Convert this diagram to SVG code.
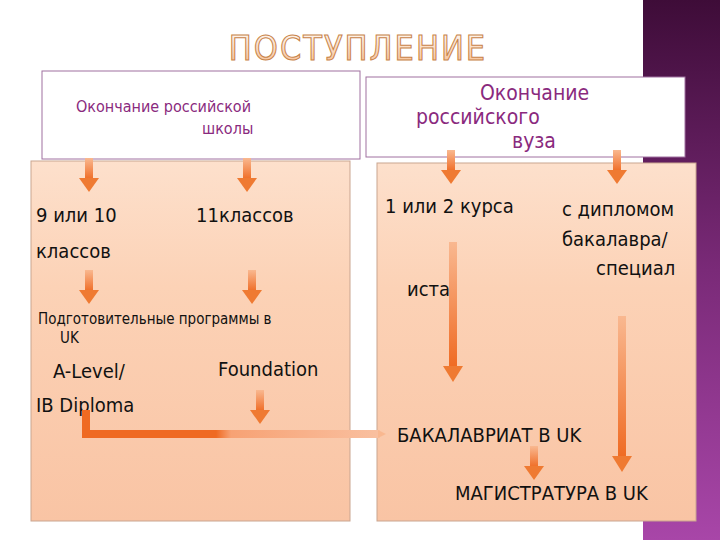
<svg xmlns="http://www.w3.org/2000/svg" width="720" height="540" viewBox="0 0 720 540">
<defs>
<linearGradient id="band" x1="0" y1="0" x2="0" y2="1"><stop offset="0" stop-color="#3e0c38"/><stop offset="0.5" stop-color="#7a2a78"/><stop offset="1" stop-color="#a846a8"/></linearGradient>
<linearGradient id="panel" x1="0" y1="0" x2="0" y2="1"><stop offset="0" stop-color="#fde0cc"/><stop offset="0.35" stop-color="#fcd2b6"/><stop offset="1" stop-color="#f9c4a4"/></linearGradient>
<linearGradient id="arr" x1="0" y1="0" x2="0" y2="1"><stop offset="0" stop-color="#f9b890"/><stop offset="1" stop-color="#ef6a22"/></linearGradient>
<linearGradient id="harr" x1="0" y1="0" x2="1" y2="0"><stop offset="0" stop-color="#ef6a22"/><stop offset="0.45" stop-color="#ef6a22"/><stop offset="0.5" stop-color="#f7a274"/><stop offset="1" stop-color="#f9c0a0"/></linearGradient>
<linearGradient id="title" x1="0" y1="0" x2="0" y2="1"><stop offset="0" stop-color="#fff"/><stop offset="1" stop-color="#f6b98a"/></linearGradient>
<g id="sa"><rect x="-4" y="0" width="8" height="22" fill="url(#arr)"/><polygon points="-10,20 10,20 0,34" fill="#ef7a32"/></g>
</defs>
<style>
.t{font-family:"DejaVu Sans Condensed","DejaVu Sans",sans-serif;fill:#111}
.p{font-family:"DejaVu Sans Condensed","DejaVu Sans",sans-serif;fill:#8a2a7e}
.box{fill:#fff;stroke:#a070a0;stroke-width:1}
.pan{fill:url(#panel);stroke:#c9a590;stroke-width:1}
</style>
<rect width="720" height="540" fill="#fff"/>
<rect x="643" y="0" width="77" height="540" fill="url(#band)"/>
<text x="358" y="60" text-anchor="middle" font-family="DejaVu Sans Condensed,DejaVu Sans,sans-serif" font-size="34" fill="url(#title)" stroke="#c8844a" stroke-width="1" letter-spacing="2">ПОСТУПЛЕНИЕ</text>
<g id="school"><rect class="box" x="42" y="71" width="318" height="88"/>
<text class="p" x="76" y="112" font-size="16">Окончание российской</text><text class="p" x="202" y="134" font-size="16">школы</text></g>
<g id="vuz"><rect class="box" x="366" y="77" width="319" height="80"/>
<text class="p" x="480" y="100" font-size="21">Окончание</text><text class="p" x="416" y="124" font-size="21">российского</text><text class="p" x="512" y="148" font-size="21">вуза</text></g>
<g id="leftpanel"><rect class="pan" x="31" y="161" width="319" height="360"/>
<text class="t" x="36" y="222" font-size="20">9 или 10</text><text class="t" x="36" y="258" font-size="20">классов</text>
<text class="t" x="196" y="222" font-size="20">11классов</text>
<text class="t" x="38" y="324" font-size="15">Подготовительные программы в</text><text class="t" x="60" y="343" font-size="15">UK</text>
<text class="t" x="53" y="378" font-size="20">A-Level/</text><text class="t" x="36" y="412" font-size="20">IB Diploma</text>
<text class="t" x="218" y="376" font-size="20">Foundation</text></g>
<g id="rightpanel"><rect class="pan" x="377" y="163" width="319" height="358"/>
<text class="t" x="385" y="213" font-size="20">1 или 2 курса</text>
<text class="t" x="562" y="216" font-size="20">с дипломом</text><text class="t" x="562" y="246" font-size="20">бакалавра/</text><text class="t" x="596" y="275" font-size="20">специал</text>
<text class="t" x="407" y="296" font-size="20">иста</text>
<text class="t" x="397" y="442" font-size="20">БАКАЛАВРИАТ В UK</text>
<text class="t" x="455" y="500" font-size="20">МАГИСТРАТУРА  В UK</text></g>
<g id="connectors">
<use href="#sa" x="89" y="158"/><use href="#sa" x="247" y="158"/>
<use href="#sa" x="89" y="270"/><use href="#sa" x="252" y="270"/>
<use href="#sa" x="451" y="150"/><use href="#sa" x="617" y="150"/>
<use href="#sa" x="260" y="390"/><use href="#sa" x="534" y="446"/>
<rect x="449" y="242" width="8" height="126" fill="url(#arr)"/><polygon points="443,366 463,366 453,382" fill="#ef7a32"/>
<rect x="618" y="316" width="8" height="142" fill="url(#arr)"/><polygon points="612,456 632,456 622,472" fill="#ef7a32"/>
<rect x="82" y="410" width="8" height="28" fill="#ef6a22"/>
<rect x="82" y="430" width="298" height="8" fill="url(#harr)"/><polygon points="378,430 386,434 378,438" fill="#f9b890"/>
</g>
</svg>
